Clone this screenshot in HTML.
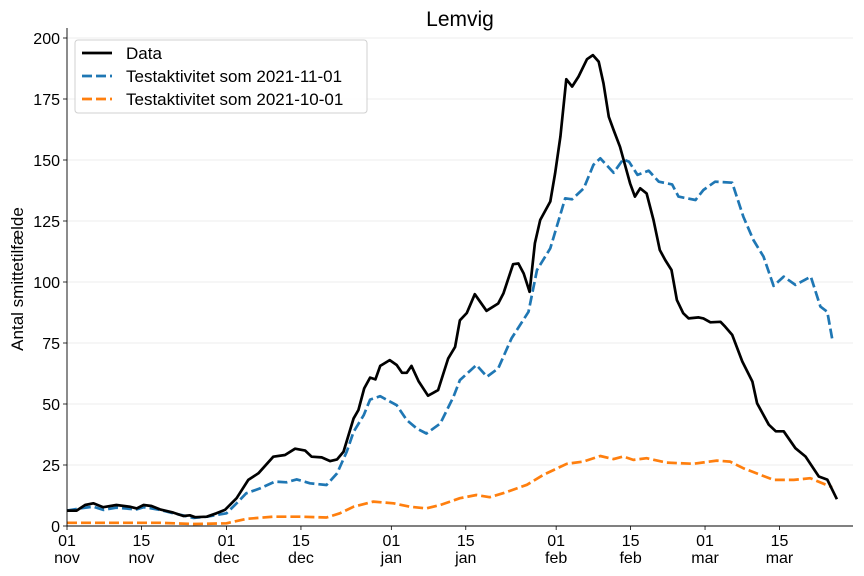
<!DOCTYPE html>
<html><head><meta charset="utf-8"><style>
body{margin:0;background:#fff;}
svg{display:block;font-family:"Liberation Sans",sans-serif;}
</style></head><body>
<svg id="chart" width="864" height="576"></svg>
<script>
const blackDays=[0,1.8,3.4,4.95,6.8,9.3,11.8,13.1,14.4,15.9,17.5,20,21.9,23.1,24.1,26.3,28.1,29.7,31.9,34.1,36,38.8,41,42.9,44.8,46,47.9,49.5,50.8,52,53.9,54.8,55.9,57,58,58.9,60.7,62,63,63.9,64.8,66.1,67.9,68.9,69.8,71.7,73,73.9,75.2,76.7,78.9,81.1,82.1,83.9,84.9,85.9,87,88,89,90.9,91.8,92.8,93.9,95,96.2,97.8,98.9,100,100.9,101.9,102.8,104,105.9,106.8,107.8,109,110.3,111.5,112.5,113.7,114.7,115.9,116.9,118.8,119.7,121,122.9,123.8,125.1,127,128.9,129.8,132,133.3,134.8,137,138.9,141.4,143,144.8];
const blackVals=[6.3,6.3,8.6,9.3,7.7,8.6,7.9,7.2,8.6,8.2,6.8,5.5,4.1,4.4,3.6,3.8,5.2,6.6,11.4,18.9,21.6,28.4,29.1,31.7,30.9,28.4,28.1,26.6,27.3,30.4,44.1,47.5,56.4,60.8,60.1,65.6,68,66,62.8,62.8,65.6,59.4,53.4,54.6,55.7,68.7,73.4,84.3,87.3,95,88.2,91.2,95.4,107.3,107.6,103.5,96,115.9,125.4,133,144.5,159.6,183.1,180.1,184.2,191.3,193,190.3,181.4,167.7,162.3,155.4,140.4,135,138.4,136.3,125.4,113.1,109,104.9,92.6,87.2,85.1,85.5,85.1,83.5,83.7,81.7,78.3,67.4,59.2,50.3,41.5,38.8,38.8,31.9,28.5,20.3,19,11];
const blueDays=[0,2.4,4.95,6.8,9.3,13.1,14.4,15.9,17.5,20,21.9,23.8,26.3,28.1,30,31.9,33.7,36.3,39.1,41.3,43.2,45.7,48.8,50.8,52.6,53.9,55.8,57,58.9,62,63.9,65.8,67.6,70.2,72.7,73.9,77,79,81.1,83.6,86.8,88.4,90.9,93.7,95,97.2,99,100.3,102.8,104.6,105.7,107.3,109.4,111.3,113.8,115,118.2,119.7,121.9,125.1,127.2,129.1,131,132.9,134.8,137,139.9,141.7,143,143.9];
const blueVals=[6.3,7.2,7.9,6.6,7.5,6.8,7.7,7.2,6.6,5.2,4.3,3.3,3.8,4.5,5.2,9.3,13.4,15.4,18.2,17.9,19.1,17.5,16.8,21.6,30.4,38.6,45.4,51.8,53.2,49.5,43.4,39.9,37.9,42,53,59.8,66,61.2,64.6,76.9,87.8,104.9,113.8,134.3,133.9,138.4,148,150.7,144.8,150.3,149.3,143.9,145.6,141.1,140,135,133.6,137.7,141.1,140.7,126.8,117.2,110.4,98.4,102.2,98.8,102.2,89.9,87.8,76.9];
const orangeDays=[0,11.2,17.5,23.8,30,33.7,38.8,43.8,48.8,51.3,53.9,57.6,61.4,64.5,67.6,70.2,73.9,77,79.5,82.1,86.5,89.6,94,97.1,100.3,102.8,104.6,106.5,109,112.8,117.8,122.2,124.7,127.2,130.4,132.9,136.7,139.8,142.3,143.9];
const orangeVals=[1.3,1.3,1.3,0.8,1.1,2.9,3.8,3.8,3.5,5.2,7.9,10,9.3,7.9,7.2,8.6,11.4,12.7,11.8,13.5,16.9,21,25.5,26.4,28.7,27.4,28.5,27.1,27.8,26,25.5,26.8,26.4,23.7,21,18.9,18.9,19.6,17.3,15.9];
const yTicks=[0,25,50,75,100,125,150,175,200];
const xTickDays=[0,14,30,44,61,75,92,106,120,134];
const xTickDay=["01","15","01","15","01","15","01","15","01","15"];
const xTickMon=["nov","nov","dec","dec","jan","jan","feb","feb","mar","mar"];

const NS="http://www.w3.org/2000/svg";
const svg=document.getElementById('chart');
const X0=67,X1=853,Y0=526,YT=28;
const xs=d=>X0+d*5.317;
const ys=v=>Y0-v*2.44;
function mk(tag,attrs,parent){const e=document.createElementNS(NS,tag);for(const k in attrs)e.setAttribute(k,attrs[k]);(parent||svg).appendChild(e);return e;}

yTicks.forEach(v=>{
  const g=mk('line',{x1:X0,x2:X1,y1:ys(v),y2:ys(v),stroke:'#e6e6e6','stroke-width':0.8});
  
  
  const t=mk('line',{x1:X0-4,x2:X0,y1:ys(v),y2:ys(v),stroke:'#000','stroke-width':0.8});
  
  
  const l=mk('text',{x:X0-7,y:ys(v)+6,'text-anchor':'end','font-size':16,fill:'#000'});
  l.textContent=v;
  
  
});
xTickDays.forEach((d,i)=>{
  const t=mk('line',{x1:xs(d),x2:xs(d),y1:Y0,y2:Y0+4,stroke:'#000','stroke-width':0.8});
  
  
  const l=mk('text',{x:xs(d),y:546,'text-anchor':'middle','font-size':16,fill:'#000'});
  l.textContent=xTickDay[i];
  
  
  const m=mk('text',{x:xs(d),y:563,'text-anchor':'middle','font-size':16,fill:'#000'});
  m.textContent=xTickMon[i];
  
  
});
function series(days,vals,color,dash,name){
  const p=mk('path',{d:days.map((d,i)=>(i?'L':'M')+xs(d).toFixed(1)+' '+ys(vals[i]).toFixed(1)).join(''),fill:'none',stroke:color,'stroke-width':2.7,'stroke-linejoin':'round'});
  if(dash)p.setAttribute('stroke-dasharray',dash);
  
  
}
series(orangeDays,orangeVals,'#ff7f0e','10 4','line-testaktivitet-2021-10-01');
series(blueDays,blueVals,'#1f77b4','10 4','line-testaktivitet-2021-11-01');
series(blackDays,blackVals,'#000',null,'line-data');
</script>
<script>
const s2=document.getElementById('chart');
s2.insertAdjacentHTML('beforeend',`
<line x1="67" y1="28" x2="67" y2="526" stroke="#000" stroke-width="0.9"/>
<line x1="67" y1="526" x2="853" y2="526" stroke="#000" stroke-width="0.9"/>
<text x="460" y="26" text-anchor="middle" font-size="21">Lemvig</text>
<text transform="translate(23,279) rotate(-90)" text-anchor="middle" font-size="17">Antal smittetilfælde</text>
<g>
<rect x="75" y="40" width="292" height="73" rx="3" fill="#fff" fill-opacity="0.85" stroke="#d0d0d0"/>
<line x1="82" y1="53" x2="112" y2="53" stroke="#000" stroke-width="2.7"/>
<text x="126" y="59" font-size="17">Data</text>
<line x1="82" y1="76" x2="112" y2="76" stroke="#1f77b4" stroke-width="2.7" stroke-dasharray="10 4"/>
<text x="126" y="82" font-size="17">Testaktivitet som 2021-11-01</text>
<line x1="82" y1="99" x2="112" y2="99" stroke="#ff7f0e" stroke-width="2.7" stroke-dasharray="10 4"/>
<text x="126" y="105" font-size="17">Testaktivitet som 2021-10-01</text>
</g>`);
</script>
</body></html>
